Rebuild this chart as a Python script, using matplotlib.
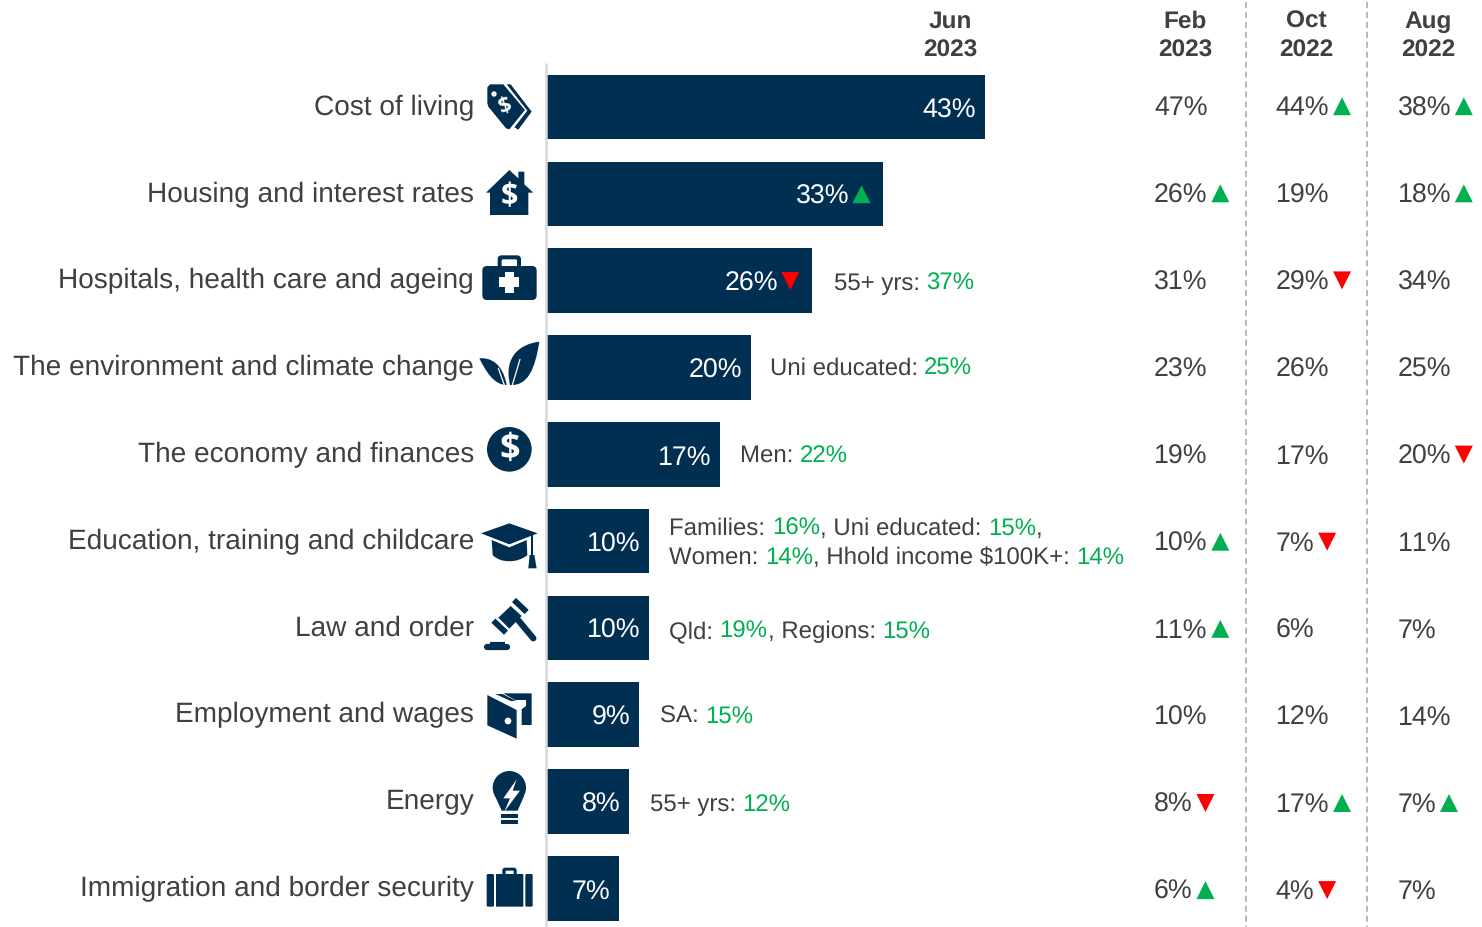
import matplotlib
matplotlib.use("Agg")
import matplotlib.pyplot as plt
from matplotlib.patches import Polygon, Circle, FancyBboxPatch, Rectangle, PathPatch
from matplotlib.path import Path

plt.rcParams['font.family'] = ['Liberation Sans', 'DejaVu Sans']
plt.rcParams['text.hinting'] = 'no_hinting'
plt.rcParams['text.kerning_factor'] = 6

categories = ["Cost of living", "Housing and interest rates", "Hospitals, health care and ageing",
              "The environment and climate change", "The economy and finances",
              "Education, training and childcare", "Law and order", "Employment and wages",
              "Energy", "Immigration and border security"]
jun_2023 = [43, 33, 26, 20, 17, 10, 10, 9, 8, 7]
jun_trend = ["", "up", "down", "", "", "", "", "", "", ""]
feb_2023 = [47, 26, 31, 23, 19, 10, 11, 10, 8, 6]
feb_trend = ["", "up", "", "", "", "up", "up", "", "down", "up"]
oct_2022 = [44, 19, 29, 26, 17, 7, 6, 12, 17, 4]
oct_trend = ["up", "", "down", "", "", "down", "", "", "up", "down"]
aug_2022 = [38, 18, 34, 25, 20, 11, 7, 14, 7, 7]
aug_trend = ["up", "up", "", "", "down", "", "", "", "up", ""]
column_heads = [("Jun", "2023"), ("Feb", "2023"), ("Oct", "2022"), ("Aug", "2022")]
# (row, line, [(text, is_green), ...])
notes = [
    (2, 0, [("55+ yrs: ", False), ("37%", True)]),
    (3, 0, [("Uni educated: ", False), ("25%", True)]),
    (4, 0, [("Men: ", False), ("22%", True)]),
    (5, 0, [("Families: ", False), ("16%", True), (", Uni educated: ", False), ("15%", True), (",", False)]),
    (5, 1, [("Women: ", False), ("14%", True), (", Hhold income $100K+: ", False), ("14%", True)]),
    (6, 0, [("Qld: ", False), ("19%", True), (", Regions: ", False), ("15%", True)]),
    (7, 0, [("SA: ", False), ("15%", True)]),
    (8, 0, [("55+ yrs: ", False), ("12%", True)]),
]

NAVY = "#012F51"
TEXT = "#404040"
GREEN = "#00B050"
RED = "#FF0000"
W, H = 1482, 927
X0 = 547.5
PX_PER_PCT = 10.17
ROW = 86.8

fig = plt.figure(figsize=(W / 100, H / 100), dpi=100, facecolor="white")
ax = fig.add_axes([0, 0, 1, 1])
ax.set_xlim(-X0 / PX_PER_PCT, (W - X0) / PX_PER_PCT)
ax.set_ylim((H - 107) / ROW, -107 / ROW)
ax.axis("off")
ax.barh(range(len(jun_2023)), jun_2023, height=64.6 / ROW, color=NAVY, linewidth=0, zorder=2)

pix = fig.add_axes([0, 0, 1, 1])
pix.set_xlim(0, W)
pix.set_ylim(H, 0)
pix.axis("off")
pix.patch.set_alpha(0)

# rules
pix.plot([546.2, 546.2], [63, H], color="#D9D9D9", lw=1.8, zorder=1, solid_capstyle="butt")
for x in (1245.5, 1367):
    pix.plot([x, x], [2, H], color="#A6A6A6", lw=1.1, ls=(0, (4, 2.5)), zorder=1)

renderer = fig.canvas.get_renderer()


def width(t):
    return t.get_window_extent(renderer).width


def triangle(x, base_y, kind):
    if kind == "up":
        pts = [(x, base_y), (x + 18, base_y), (x + 9, base_y - 18)]
        col = GREEN
    else:
        pts = [(x, base_y - 18), (x + 18, base_y - 18), (x + 9, base_y)]
        col = RED
    pix.add_patch(Polygon(pts, closed=True, fc=col, ec="none", zorder=5))


# row labels
for i, c in enumerate(categories):
    pix.text(474, 115 + ROW * i, c, ha="right", va="baseline", fontsize=20.15, color=TEXT)

# headers
for (a, b), x in zip(column_heads, (950, 1185, 1306, 1428)):
    pix.text(x, 28, a, ha="center", va="baseline", fontsize=17.6, fontweight="bold", color=TEXT)
    pix.text(x, 56.5, b, ha="center", va="baseline", fontsize=17.6, fontweight="bold", color=TEXT)

# bar labels
for i, (v, tr) in enumerate(zip(jun_2023, jun_trend)):
    end = X0 + v * PX_PER_PCT
    base = 117.4 + ROW * i
    xr = end - (34 if tr else 8.5)
    pix.text(xr, base, f"{v}%", ha="right", va="baseline", fontsize=19.25, color="white", zorder=4)
    if tr:
        triangle(xr + 3.4, base - 1, tr)

# history columns
for vals, trs, x0 in ((feb_2023, feb_trend, 1154), (oct_2022, oct_trend, 1275.7), (aug_2022, aug_trend, 1397.5)):
    for i, (v, tr) in enumerate(zip(vals, trs)):
        base = 115.3 + 87.1 * i
        t = pix.text(x0, base, f"{v}%", ha="left", va="baseline", fontsize=19.25, color=TEXT)
        if tr:
            triangle(x0 + width(t) + 3.8, base - 0.1, tr)

# notes
for row, line, segs in notes:
    base = {2: 289.8, 3: 375, 4: 462, 5: 535 + 29 * line, 6: 638, 7: 723, 8: 811}[row]
    x = {2: 833.5, 3: 769.5, 4: 740, 5: 669, 6: 668.8, 7: 660, 8: 649.8}[row]
    for s, green in segs:
        t = pix.text(x, base, s.replace(" ", "\u00a0"), ha="left", va="baseline", fontsize=17.25,
                     color=GREEN if green else TEXT)
        x += width(t)


# ---- icons: coordinates taken from enlarged crops ----
def pt(ox, oy, p):
    return (ox + p[0] / 3, oy + p[1] / 3)


def poly(ox, oy, pts, c=NAVY):
    pix.add_patch(Polygon([pt(ox, oy, p) for p in pts], closed=True, fc=c, ec="none", zorder=3))


def rrect(ox, oy, x0, y0, x1, y1, r, c=NAVY):
    a = pt(ox, oy, (x0, y0))
    b = pt(ox, oy, (x1, y1))
    rr = r / 3
    pix.add_patch(FancyBboxPatch((a[0] + rr, a[1] + rr), b[0] - a[0] - 2 * rr, b[1] - a[1] - 2 * rr,
                                 boxstyle=f"round,pad={rr}", fc=c, ec="none", zorder=3))


def circ(ox, oy, cx, cy, r, c=NAVY):
    pix.add_patch(Circle(pt(ox, oy, (cx, cy)), r / 3, fc=c, ec="none", zorder=3))


def seg(ox, oy, a, b, lw, c=NAVY, cap="round"):
    p, q = pt(ox, oy, a), pt(ox, oy, b)
    pix.plot([p[0], q[0]], [p[1], q[1]], color=c, lw=lw, solid_capstyle=cap, zorder=3)


def dollar(ox, oy, cx, cy, size, rot=0):
    p = pt(ox, oy, (cx, cy))
    pix.text(p[0], p[1], "$", ha="center", va="center", fontsize=size, fontweight="bold",
             family="Open Sans", color="white", rotation=rot, zorder=4)


def curve(ox, oy, verts, codes, c=NAVY):
    pix.add_patch(PathPatch(Path([pt(ox, oy, v) for v in verts], codes), fc=c, ec="none", zorder=3))


O1 = (470, 70)
O2 = (470, 500)
M, C, L = Path.MOVETO, Path.CURVE4, Path.LINETO
# tag
poly(*O1, [(122, 43), (110, 43), (172, 122), (133, 172), (145, 179), (185, 125)])
poly(*O1, [(52, 52), (60, 43), (100, 43), (165, 120), (118, 178), (108, 175), (55, 110), (52, 100)])
circ(*O1, 72, 72, 8, "white")
dollar(*O1, 105, 110, 16, rot=20)
# house
poly(*O1, [(48, 368), (118, 300), (145, 325), (145, 305), (163, 305), (163, 343), (190, 368),
           (175, 368), (175, 435), (60, 435), (60, 368)])
dollar(*O1, 118, 382, 22)
# medkit
rrect(*O1, 83, 556, 153, 610, 12)
rrect(*O1, 95, 568, 141, 600, 4, "white")
rrect(*O1, 37, 588, 200, 690, 14)
pix.add_patch(Rectangle(pt(*O1, (88, 622)), 20, 9.3, fc="white", ec="none", zorder=4))
pix.add_patch(Rectangle(pt(*O1, (105, 605)), 9, 21, fc="white", ec="none", zorder=4))
# leaves
curve(*O1, [(28, 865), (62, 862), (98, 880), (110, 945), (72, 945), (48, 905), (28, 865)],
      [M, C, C, C, C, C, C])
curve(*O1, [(208, 815), (150, 822), (100, 860), (120, 945), (172, 948), (195, 900), (208, 815)],
      [M, C, C, C, C, C, C])
seg(*O1, (127, 945), (150, 868), 0.9, "white")
seg(*O1, (103, 945), (85, 895), 0.9, "white")
# dollar coin
circ(*O1, 118, 1138, 67)
dollar(*O1, 118, 1138, 26)
# mortarboard
poly(*O2, [(33, 100), (118, 70), (203, 100), (118, 133)])
curve(*O2, [(65, 120), (118, 142), (170, 120), (172, 165), (145, 190), (90, 190), (68, 165), (65, 120)],
      [M, L, L, L, C, C, C, L])
seg(*O2, (186, 105), (186, 168), 1.5, cap="butt")
poly(*O2, [(175, 205), (179, 165), (193, 165), (200, 205)])
# gavel
seg(*O2, (140, 355), (190, 415), 4.5)
poly(*O2, [(85, 353), (122, 318), (155, 348), (118, 386)])
seg(*O2, (70, 362), (108, 398), 4.2, cap="butt")
seg(*O2, (132, 300), (170, 336), 4.2, cap="butt")
seg(*O2, (50, 442), (112, 442), 4.5)
seg(*O2, (60, 432), (104, 432), 3, cap="butt")
# wallet
poly(*O2, [(100, 580), (185, 580), (185, 675), (155, 675), (155, 628), (168, 618), (168, 600), (135, 600)])
poly(*O2, [(52, 585), (140, 630), (140, 716), (52, 676)])
poly(*O2, [(76, 582), (98, 582), (138, 603), (122, 603)])
circ(*O2, 114, 663, 10, "white")
# bulb
circ(*O2, 118, 863, 50)
poly(*O2, [(75, 888), (162, 888), (143, 932), (95, 932)])
poly(*O2, [(140, 838), (100, 895), (120, 895), (103, 935), (150, 872), (128, 872)], "white")
pix.add_patch(Rectangle(pt(*O2, (93, 942)), 17, 3.6, fc=NAVY, ec="none", zorder=3))
pix.add_patch(Rectangle(pt(*O2, (93, 960)), 17, 3.6, fc=NAVY, ec="none", zorder=3))
# briefcase
rrect(*O2, 97, 1103, 140, 1130, 8)
rrect(*O2, 107, 1112, 131, 1130, 2, "white")
rrect(*O2, 50, 1122, 72, 1220, 4)
rrect(*O2, 78, 1122, 160, 1220, 2)
rrect(*O2, 166, 1122, 188, 1220, 4)

fig.savefig("out.png", dpi=100, facecolor="white")
